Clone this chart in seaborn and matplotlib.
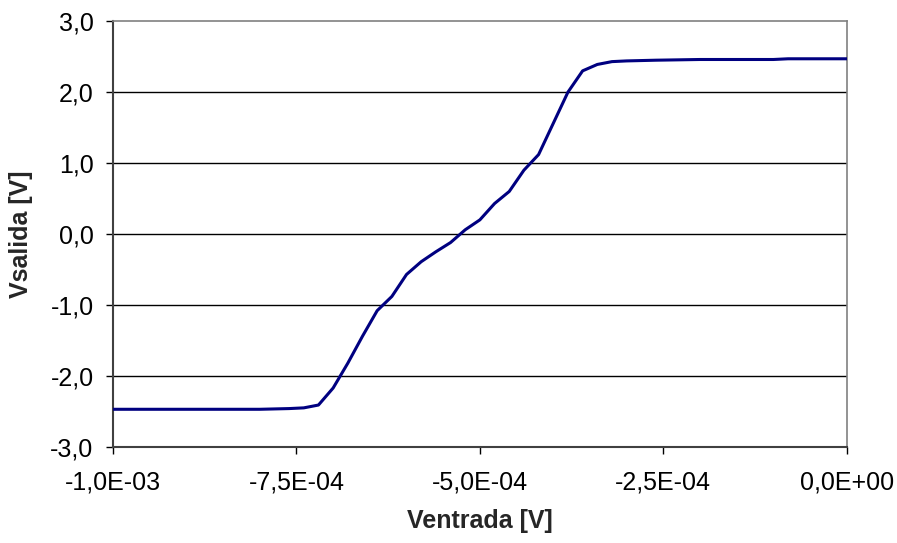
import pandas as pd
import matplotlib
matplotlib.use('Agg')
import matplotlib.pyplot as plt
import matplotlib.ticker as mticker
import seaborn as sns

# Ventrada [V] / Vsalida [V]
ventrada = [-1.0e-3, -9.0e-4, -8.0e-4, -7.6e-4, -7.4e-4, -7.2e-4, -7.0e-4, -6.8e-4,
            -6.6e-4, -6.4e-4, -6.2e-4, -6.0e-4, -5.8e-4, -5.6e-4, -5.4e-4, -5.2e-4,
            -5.0e-4, -4.8e-4, -4.6e-4, -4.4e-4, -4.2e-4, -4.0e-4, -3.8e-4, -3.6e-4,
            -3.4e-4, -3.2e-4, -3.0e-4, -2.6e-4, -2.0e-4, -1.0e-4, -8.0e-5, 0.0]
vsalida = [-2.47, -2.47, -2.47, -2.46, -2.45, -2.41, -2.17, -1.82,
           -1.44, -1.08, -0.88, -0.57, -0.39, -0.25, -0.12, 0.06,
           0.20, 0.43, 0.60, 0.90, 1.12, 1.56, 2.00, 2.30,
           2.39, 2.43, 2.44, 2.45, 2.46, 2.46, 2.47, 2.47]

xticks = [-1.0e-3, -7.5e-4, -5.0e-4, -2.5e-4, 0.0]
yticks = [-3, -2, -1, 0, 1, 2, 3]

df = pd.DataFrame({'Ventrada': ventrada, 'Vsalida': vsalida})

sns.set_style('white')
plt.rcParams['font.family'] = ['Liberation Sans', 'DejaVu Sans']

fig = plt.figure(figsize=(8.97, 5.43), dpi=100)
ax = fig.add_axes([0.126, 0.177, 0.818, 0.784])

for y in yticks[1:-1]:
    ax.axhline(y, color='black', lw=1, zorder=1)

sns.lineplot(data=df, x='Ventrada', y='Vsalida', color='#000080', lw=2.2, ax=ax, zorder=3)

ax.set_xlim(-1.0e-3, 0.0)
ax.set_ylim(-3, 3)
ax.set_xticks(xticks)
ax.set_yticks(yticks)
ax.xaxis.set_major_formatter(mticker.FuncFormatter(lambda v, p: f'{v:.1E}'.replace('.', ',')))
ax.yaxis.set_major_formatter(mticker.FuncFormatter(lambda v, p: f'{v:.1f}'.replace('.', ',')))
ax.tick_params(axis='both', which='major', labelsize=18, length=5, width=1,
               direction='out', colors='black', bottom=True, left=True)
ax.tick_params(axis='x', pad=12)
ax.tick_params(axis='y', pad=9)

for side in ['top', 'right']:
    ax.spines[side].set_color('#808080')
    ax.spines[side].set_linewidth(1.2)
for side in ['left', 'bottom']:
    ax.spines[side].set_color('#404040')
    ax.spines[side].set_linewidth(1.5)

ax.set_xlabel('Ventrada [V]', fontsize=18, fontweight='bold')
ax.set_ylabel('Vsalida [V]', fontsize=18, fontweight='bold')
ax.xaxis.label.set_va('center')
ax.yaxis.label.set_va('center')
ax.xaxis.set_label_coords(0.5, -0.174)
ax.yaxis.set_label_coords(-0.125, 0.5)

fig.savefig('out.png', dpi=100, facecolor='white')
